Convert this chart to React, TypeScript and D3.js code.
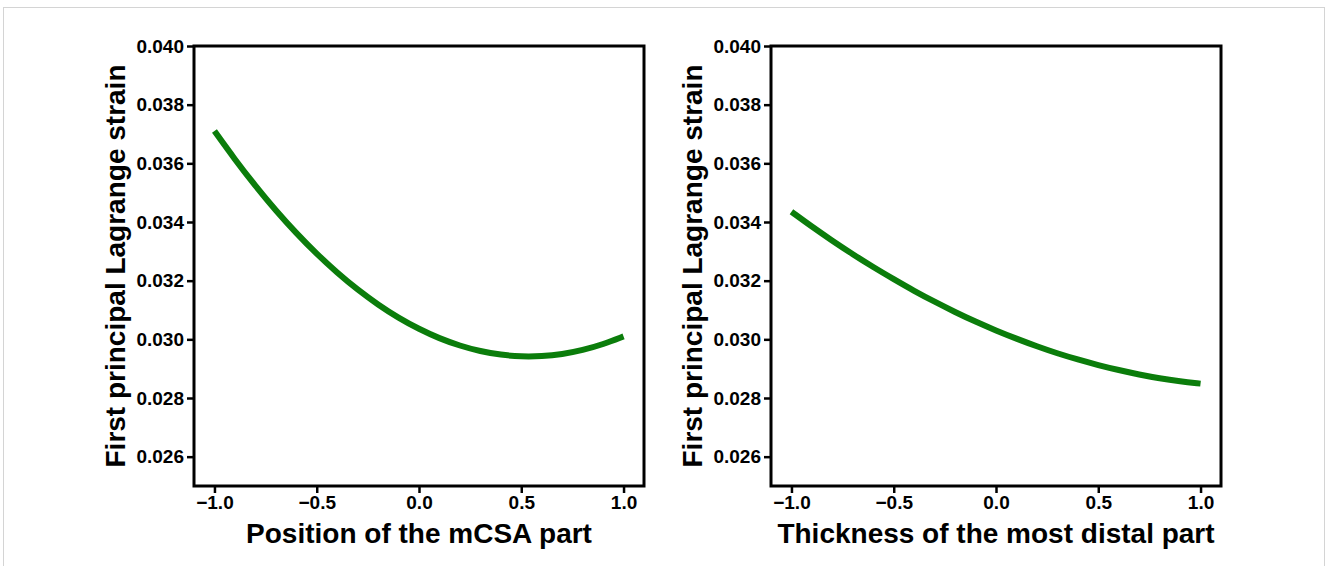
import React, { useEffect, useRef } from "react";
import * as d3 from "d3";

// x values shared by both panels
const xVals = [
  -1.0, -0.9, -0.8, -0.7, -0.6, -0.5, -0.4, -0.3, -0.2, -0.1, 0.0, 0.1, 0.2,
  0.3, 0.4, 0.5, 0.6, 0.7, 0.8, 0.9, 1.0,
];

// left panel: position of the mCSA part
const strainPosition = [
  0.0371, 0.03613, 0.03523, 0.03439, 0.03362, 0.03291, 0.03227, 0.03169,
  0.03118, 0.03073, 0.03035, 0.03003, 0.02978, 0.02959, 0.02947, 0.02941,
  0.02942, 0.02949, 0.02963, 0.02983, 0.0301,
];

// right panel: thickness of the most distal part
const strainThickness = [
  0.03435, 0.03384, 0.03336, 0.0329, 0.03246, 0.03205, 0.03165, 0.03128,
  0.03093, 0.0306, 0.0303, 0.03002, 0.02976, 0.02952, 0.02931, 0.02912,
  0.02895, 0.0288, 0.02867, 0.02857, 0.02849,
];

const xTicks = [-1.0, -0.5, 0.0, 0.5, 1.0];
const yTicks = [0.026, 0.028, 0.03, 0.032, 0.034, 0.036, 0.038, 0.04];

const yLabel = "First principal Lagrange strain";
const xLabels = ["Position of the mCSA part", "Thickness of the most distal part"];

const W = 1327;
const H = 566;
const FONT = "'Liberation Sans', Arial, Helvetica, sans-serif";

export default function App() {
  const ref = useRef<SVGSVGElement>(null);

  useEffect(() => {
    drawChart();
    //eslint-disable-next-line
  }, []);

  function drawChart() {
    const root = d3.select(ref.current);
    root.selectAll("*").remove();

    root
      .append("rect")
      .attr("x", 3.5)
      .attr("y", 7.5)
      .attr("width", 1321)
      .attr("height", 600)
      .attr("fill", "white")
      .attr("stroke", "#d4d4d4")
      .attr("stroke-width", 1);

    const panels = [
      { left: 194, series: strainPosition, xLabel: xLabels[0] },
      { left: 771, series: strainThickness, xLabel: xLabels[1] },
    ];
    const top = 46;
    const pw = 450;
    const ph = 440;

    panels.forEach((p) => {
      const g = root.append("g").attr("transform", `translate(${p.left},${top})`);

      const x = d3.scaleLinear().domain([-1.1, 1.1]).range([0, pw]);
      const y = d3.scaleLinear().domain([0.025, 0.04]).range([ph, 0]);

      // Add X axis
      const gx = g
        .append("g")
        .attr("transform", `translate(0, ${ph})`)
        .call(
          d3
            .axisBottom(x)
            .tickValues(xTicks)
            .tickFormat(d3.format(".1f"))
            .tickSize(7)
            .tickPadding(3)
        );

      // Add Y axis
      const gy = g.append("g").call(
        d3
          .axisLeft(y)
          .tickValues(yTicks)
          .tickFormat(d3.format(".3f"))
          .tickSize(7)
          .tickPadding(3)
      );

      [gx, gy].forEach((a) => {
        a.select(".domain").remove();
        a.selectAll(".tick line").attr("stroke", "#000").attr("stroke-width", 2.5);
        a.selectAll(".tick text")
          .attr("fill", "#000")
          .style("font-family", FONT)
          .style("font-weight", "bold")
          .style("font-size", "19px");
      });

      // frame
      g.append("rect")
        .attr("x", 0)
        .attr("y", 0)
        .attr("width", pw)
        .attr("height", ph)
        .attr("fill", "none")
        .attr("stroke", "#000")
        .attr("stroke-width", 3);

      const line = d3
        .line<number>()
        .x((d, i) => x(xVals[i]))
        .y((d) => y(d))
        .curve(d3.curveBasis);

      g.append("path")
        .datum(p.series)
        .attr("d", line)
        .attr("fill", "none")
        .attr("stroke", "#0b7d0b")
        .attr("stroke-width", 6);

      g.append("text")
        .attr("x", pw / 2)
        .attr("y", 497)
        .attr("text-anchor", "middle")
        .style("font-family", FONT)
        .style("font-weight", "bold")
        .style("font-size", "28px")
        .text(p.xLabel);

      g.append("text")
        .attr("transform", `translate(-69, ${ph / 2}) rotate(-90)`)
        .attr("text-anchor", "middle")
        .style("font-family", FONT)
        .style("font-weight", "bold")
        .style("font-size", "28px")
        .text(yLabel);
    });
  }

  return (
    <svg
      ref={ref}
      width={W}
      height={H}
      style={{ position: "absolute", left: 0, top: 0, background: "white" }}
    />
  );
}
